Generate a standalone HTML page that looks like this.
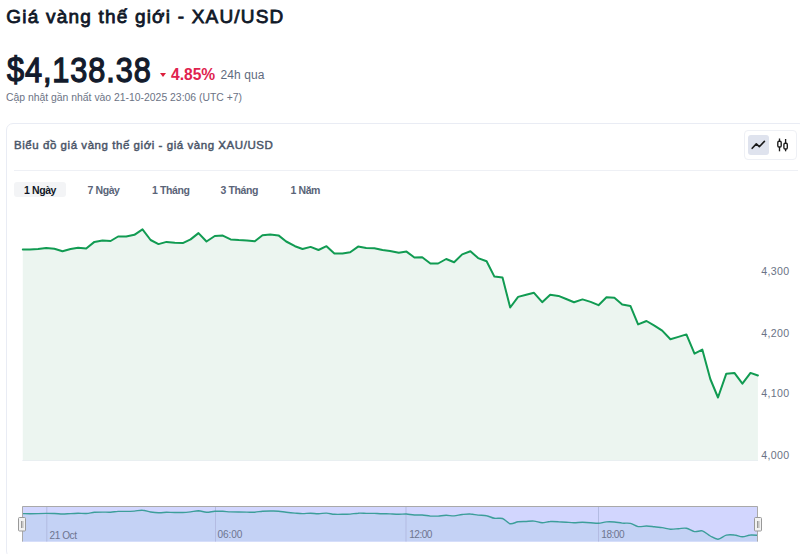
<!DOCTYPE html>
<html lang="vi">
<head>
<meta charset="utf-8">
<title>Giá vàng thế giới - XAU/USD</title>
<style>
*{margin:0;padding:0;box-sizing:border-box}
html,body{width:800px;height:554px;overflow:hidden;background:#fff}
body{font-family:"Liberation Sans",sans-serif;position:relative;color:#111827}
.abs{position:absolute;white-space:nowrap}
#title{left:6.3px;top:4.8px;font-size:19px;font-weight:normal;-webkit-text-stroke:0.8px #101828;color:#101828;line-height:24px;letter-spacing:1.2px}
#price{left:7.3px;top:48.6px;font-size:34.3px;font-weight:normal;-webkit-text-stroke:1.3px #131b2c;color:#131b2c;line-height:42px;letter-spacing:1px;transform:scaleX(0.895);transform-origin:0 0}
#tri{left:159.6px;top:73.4px;width:0;height:0;border-left:3.5px solid transparent;border-right:3.5px solid transparent;border-top:4.3px solid #dc1f3c}
#pct{left:171px;top:65.5px;font-size:15.6px;font-weight:bold;color:#e0234e;line-height:18px}
#ago{left:220.5px;top:68px;font-size:12px;letter-spacing:0.1px;color:#5f6b7e;line-height:14px}
#upd{left:6px;top:92px;font-size:10.4px;color:#6b7385;line-height:12px}
#card{left:6px;top:122.5px;width:800px;height:435px;border:1px solid #e9ecf4;border-radius:7px}
#ctitle{left:14px;top:137.5px;font-size:11.5px;font-weight:normal;-webkit-text-stroke:0.45px #4a5568;color:#4a5568;line-height:14px;letter-spacing:0.55px}
#tog{left:743.5px;top:130px;width:53px;height:29.5px;border:1px solid #eef0f5;border-radius:4px}
#tog .act{position:absolute;left:3.5px;top:3.5px;width:20.75px;height:20.5px;background:#dfe3ee;border-radius:3px}
#div1{left:14px;top:170px;width:783.5px;height:1px;background:#eef0f5}
#tab0{left:13.75px;top:181.75px;width:52px;height:15px;background:#f3f4f6;border-radius:3px}
.tab{top:184px;font-size:10.5px;font-weight:bold;color:#5a6478;line-height:12px;letter-spacing:-0.4px}
.tab.on{color:#111827}
svg{position:absolute;left:0;top:0}
</style>
</head>
<body>
<div class="abs" id="title">Giá vàng thế giới - XAU/USD</div>
<div class="abs" id="price">$4,138.38</div>
<div class="abs" id="tri"></div>
<div class="abs" id="pct">4.85%</div>
<div class="abs" id="ago">24h qua</div>
<div class="abs" id="upd">Cập nhật gần nhất vào 21-10-2025 23:06 (UTC +7)</div>
<div class="abs" id="card"></div>
<div class="abs" id="ctitle">Biểu đồ giá vàng thế giới - giá vàng XAU/USD</div>
<div class="abs" id="tog"><div class="act"></div></div>
<div class="abs" id="div1"></div>
<div class="abs" id="tab0"></div>
<div class="abs tab on" style="left:24px">1 Ngày</div>
<div class="abs tab" style="left:87.5px">7 Ngày</div>
<div class="abs tab" style="left:152px">1 Tháng</div>
<div class="abs tab" style="left:220.5px">3 Tháng</div>
<div class="abs tab" style="left:290.5px">1 Năm</div>
<svg width="800" height="554" viewBox="0 0 800 554">
 <!-- toggle icons -->
 <path d="M752.2 148.3 L756.3 143.9 L759.3 146.7 L764.4 141.4" fill="none" stroke="#1a1a1a" stroke-width="1.6" stroke-linecap="round" stroke-linejoin="round"/>
 <g fill="none" stroke="#1a1a1a" stroke-width="1.35">
  <line x1="779.5" y1="138.5" x2="779.5" y2="151.3"/>
  <rect x="777.8" y="141.2" width="3.4" height="5.8" rx="1.2" fill="#fff"/>
  <line x1="785.6" y1="139" x2="785.6" y2="151.3"/>
  <rect x="783.9" y="143.2" width="3.4" height="5.8" rx="1.2" fill="#fff"/>
 </g>
 <!-- main chart -->
 <line x1="22.5" y1="460.5" x2="758" y2="460.5" stroke="#e6e9f2" stroke-width="1"/>
 <path d="M22.8 249.4 L30 249.5 L38.1 249.1 L46.2 248 L54.4 248.8 L62.5 251.2 L70.6 249 L78.1 247.8 L86.2 248.5 L94.4 241.9 L102.5 240.6 L110.6 241 L118.1 236.5 L126.2 236.6 L134.4 234.8 L142.5 229.3 L150.6 240 L158.5 244.1 L166.5 241.9 L174.8 242.8 L182.8 243.1 L190.6 239.4 L198.5 233.1 L206.5 241.5 L214.8 236 L222.8 235.6 L230.6 239.4 L238.8 240 L246.9 240.4 L254.8 241.2 L262.5 235.2 L270.2 234.4 L278.5 235.4 L286.2 241.5 L295 246.2 L302.5 249 L310.6 246.9 L318.5 250 L326.5 246.2 L334.4 253.4 L342.5 253.4 L350.2 252.2 L358.1 246.6 L366.2 247.9 L374.4 248.2 L382.5 250 L390 250.9 L398.8 252.8 L406.5 251.6 L414.4 257.5 L422.2 257.2 L430.4 263.5 L438.1 263.5 L446.2 259 L454.1 262.2 L462.2 254.4 L470.4 251.2 L478.1 258.1 L486.6 261.2 L494.4 276.6 L502.5 277.5 L510.2 307.5 L518.1 296.9 L526.2 294.8 L534 292.8 L542.2 302.2 L550.2 294.8 L558.5 295.9 L566.2 299 L574 302.2 L582.5 299.4 L590.6 301.9 L598.5 305.2 L606.5 297.2 L614.4 297.8 L622.2 304.4 L630.4 305.9 L638.1 324.4 L646.5 321 L654.4 325.6 L662.2 330.6 L670.4 339.3 L678.4 336.9 L686.4 334.4 L694.5 353.6 L702.3 349.6 L710.3 379 L718 397.5 L726.3 373.7 L734.4 372.9 L742.4 383.7 L750.5 372.9 L757.9 375.5 L757.9 460.5 L22.8 460.5 Z" fill="#ecf5f0"/>
 <path d="M22.8 249.4 L30 249.5 L38.1 249.1 L46.2 248 L54.4 248.8 L62.5 251.2 L70.6 249 L78.1 247.8 L86.2 248.5 L94.4 241.9 L102.5 240.6 L110.6 241 L118.1 236.5 L126.2 236.6 L134.4 234.8 L142.5 229.3 L150.6 240 L158.5 244.1 L166.5 241.9 L174.8 242.8 L182.8 243.1 L190.6 239.4 L198.5 233.1 L206.5 241.5 L214.8 236 L222.8 235.6 L230.6 239.4 L238.8 240 L246.9 240.4 L254.8 241.2 L262.5 235.2 L270.2 234.4 L278.5 235.4 L286.2 241.5 L295 246.2 L302.5 249 L310.6 246.9 L318.5 250 L326.5 246.2 L334.4 253.4 L342.5 253.4 L350.2 252.2 L358.1 246.6 L366.2 247.9 L374.4 248.2 L382.5 250 L390 250.9 L398.8 252.8 L406.5 251.6 L414.4 257.5 L422.2 257.2 L430.4 263.5 L438.1 263.5 L446.2 259 L454.1 262.2 L462.2 254.4 L470.4 251.2 L478.1 258.1 L486.6 261.2 L494.4 276.6 L502.5 277.5 L510.2 307.5 L518.1 296.9 L526.2 294.8 L534 292.8 L542.2 302.2 L550.2 294.8 L558.5 295.9 L566.2 299 L574 302.2 L582.5 299.4 L590.6 301.9 L598.5 305.2 L606.5 297.2 L614.4 297.8 L622.2 304.4 L630.4 305.9 L638.1 324.4 L646.5 321 L654.4 325.6 L662.2 330.6 L670.4 339.3 L678.4 336.9 L686.4 334.4 L694.5 353.6 L702.3 349.6 L710.3 379 L718 397.5 L726.3 373.7 L734.4 372.9 L742.4 383.7 L750.5 372.9 L757.9 375.5" fill="none" stroke="#119b52" stroke-width="2" stroke-linejoin="round" stroke-linecap="round"/>
 <g font-family="Liberation Sans, sans-serif" font-size="10.6" fill="#6b7385" letter-spacing="0.35">
  <text x="789.6" y="275.3" text-anchor="end">4,300</text>
  <text x="789.6" y="337" text-anchor="end">4,200</text>
  <text x="789.6" y="397.4" text-anchor="end">4,100</text>
  <text x="789.6" y="458.8" text-anchor="end">4,000</text>
 </g>
 <!-- navigator -->
 <rect x="22" y="506.5" width="736" height="35" fill="#d2d6fe"/>
 <path d="M22 513.6 C23.3 513.6 27.3 513.7 30 513.7 C32.7 513.6 35.4 513.6 38.1 513.6 C40.8 513.5 43.5 513.4 46.2 513.4 C49 513.4 51.7 513.4 54.4 513.5 C57.1 513.6 59.8 513.9 62.5 514 C65.2 514 68 513.7 70.6 513.6 C73.2 513.5 75.5 513.4 78.1 513.3 C80.7 513.3 83.5 513.6 86.2 513.5 C89 513.3 91.7 512.6 94.4 512.3 C97.1 512.1 99.8 512.1 102.5 512.1 C105.2 512.1 108 512.3 110.6 512.2 C113.2 512.1 115.5 511.5 118.1 511.4 C120.7 511.3 123.5 511.5 126.2 511.4 C129 511.4 131.7 511.3 134.4 511.1 C137.1 510.9 139.8 510 142.5 510.2 C145.2 510.3 147.9 511.6 150.6 512 C153.3 512.4 155.8 512.7 158.5 512.7 C161.2 512.8 163.8 512.4 166.5 512.3 C169.2 512.3 172 512.5 174.8 512.5 C177.5 512.5 180.1 512.6 182.8 512.5 C185.4 512.5 188 512.2 190.6 511.9 C193.2 511.6 195.8 510.8 198.5 510.8 C201.2 510.9 203.8 512.2 206.5 512.3 C209.2 512.4 212 511.5 214.8 511.3 C217.5 511.2 220.1 511.2 222.8 511.3 C225.4 511.4 227.9 511.8 230.6 511.9 C233.3 512 236 512 238.8 512 C241.5 512 244.2 512 246.9 512.1 C249.6 512.1 252.2 512.4 254.8 512.2 C257.4 512.1 259.9 511.4 262.5 511.2 C265.1 511 267.6 511 270.2 511 C272.9 511.1 275.8 511 278.5 511.2 C281.2 511.4 283.5 512 286.2 512.3 C289 512.6 292.3 512.9 295 513.1 C297.7 513.3 299.9 513.5 302.5 513.6 C305.1 513.6 307.9 513.2 310.6 513.2 C313.3 513.2 315.9 513.8 318.5 513.7 C321.1 513.7 323.9 513 326.5 513.1 C329.1 513.2 331.7 514.1 334.4 514.3 C337.1 514.5 339.9 514.4 342.5 514.3 C345.1 514.3 347.6 514.3 350.2 514.1 C352.9 513.9 355.4 513.3 358.1 513.2 C360.8 513 363.5 513.3 366.2 513.4 C369 513.4 371.7 513.4 374.4 513.4 C377.1 513.5 379.9 513.7 382.5 513.7 C385.1 513.8 387.3 513.8 390 513.9 C392.7 514 396 514.2 398.8 514.2 C401.5 514.2 403.9 513.9 406.5 514 C409.1 514.2 411.8 514.9 414.4 515 C417 515.2 419.6 514.8 422.2 515 C424.9 515.2 427.8 515.9 430.4 516.1 C433 516.2 435.5 516.2 438.1 516.1 C440.7 515.9 443.6 515.3 446.2 515.3 C448.9 515.3 451.4 516 454.1 515.9 C456.8 515.7 459.5 514.8 462.2 514.5 C465 514.2 467.8 513.8 470.4 514 C473 514.1 475.4 514.8 478.1 515.1 C480.8 515.4 483.9 515.1 486.6 515.7 C489.3 516.2 491.8 517.9 494.4 518.3 C497 518.8 499.9 517.6 502.5 518.5 C505.1 519.4 507.6 523.1 510.2 523.7 C512.9 524.2 515.4 522.2 518.1 521.8 C520.8 521.5 523.6 521.6 526.2 521.5 C528.9 521.3 531.3 520.9 534 521.1 C536.7 521.3 539.5 522.7 542.2 522.8 C545 522.8 547.5 521.6 550.2 521.5 C553 521.3 555.8 521.5 558.5 521.7 C561.2 521.8 563.7 522 566.2 522.2 C568.8 522.4 571.3 522.7 574 522.8 C576.7 522.8 579.7 522.3 582.5 522.3 C585.3 522.3 587.9 522.5 590.6 522.7 C593.3 522.9 595.9 523.4 598.5 523.3 C601.1 523.1 603.9 522.1 606.5 521.9 C609.1 521.7 611.8 521.8 614.4 522 C617 522.2 619.6 522.9 622.2 523.1 C624.9 523.4 627.8 522.8 630.4 523.4 C633 524 635.4 526.1 638.1 526.6 C640.8 527 643.8 526 646.5 526 C649.2 526 651.8 526.5 654.4 526.8 C657 527.1 659.5 527.3 662.2 527.6 C664.9 528 667.7 529 670.4 529.2 C673.1 529.3 675.7 528.9 678.4 528.7 C681.1 528.6 683.7 527.8 686.4 528.3 C689.1 528.8 691.9 531.2 694.5 531.6 C697.1 532.1 699.7 530.2 702.3 530.9 C704.9 531.7 707.7 534.6 710.3 536 C712.9 537.4 715.3 539.3 718 539.2 C720.7 539 723.6 535.8 726.3 535.1 C729 534.4 731.7 534.7 734.4 535 C737.1 535.2 739.7 536.8 742.4 536.8 C745.1 536.8 747.9 535.2 750.5 535 C753.1 534.7 756.7 535.3 757.9 535.4 L757.9 541.5 L22 541.5 Z" fill="#c4d2f5"/>
 <g stroke="#b3bbe2" stroke-width="1">
  <line x1="46.8" y1="507" x2="46.8" y2="541.5"/>
  <line x1="215.5" y1="507" x2="215.5" y2="541.5"/>
  <line x1="406" y1="507" x2="406" y2="541.5"/>
  <line x1="598.5" y1="507" x2="598.5" y2="541.5"/>
 </g>
 <path d="M22 513.6 C23.3 513.6 27.3 513.7 30 513.7 C32.7 513.6 35.4 513.6 38.1 513.6 C40.8 513.5 43.5 513.4 46.2 513.4 C49 513.4 51.7 513.4 54.4 513.5 C57.1 513.6 59.8 513.9 62.5 514 C65.2 514 68 513.7 70.6 513.6 C73.2 513.5 75.5 513.4 78.1 513.3 C80.7 513.3 83.5 513.6 86.2 513.5 C89 513.3 91.7 512.6 94.4 512.3 C97.1 512.1 99.8 512.1 102.5 512.1 C105.2 512.1 108 512.3 110.6 512.2 C113.2 512.1 115.5 511.5 118.1 511.4 C120.7 511.3 123.5 511.5 126.2 511.4 C129 511.4 131.7 511.3 134.4 511.1 C137.1 510.9 139.8 510 142.5 510.2 C145.2 510.3 147.9 511.6 150.6 512 C153.3 512.4 155.8 512.7 158.5 512.7 C161.2 512.8 163.8 512.4 166.5 512.3 C169.2 512.3 172 512.5 174.8 512.5 C177.5 512.5 180.1 512.6 182.8 512.5 C185.4 512.5 188 512.2 190.6 511.9 C193.2 511.6 195.8 510.8 198.5 510.8 C201.2 510.9 203.8 512.2 206.5 512.3 C209.2 512.4 212 511.5 214.8 511.3 C217.5 511.2 220.1 511.2 222.8 511.3 C225.4 511.4 227.9 511.8 230.6 511.9 C233.3 512 236 512 238.8 512 C241.5 512 244.2 512 246.9 512.1 C249.6 512.1 252.2 512.4 254.8 512.2 C257.4 512.1 259.9 511.4 262.5 511.2 C265.1 511 267.6 511 270.2 511 C272.9 511.1 275.8 511 278.5 511.2 C281.2 511.4 283.5 512 286.2 512.3 C289 512.6 292.3 512.9 295 513.1 C297.7 513.3 299.9 513.5 302.5 513.6 C305.1 513.6 307.9 513.2 310.6 513.2 C313.3 513.2 315.9 513.8 318.5 513.7 C321.1 513.7 323.9 513 326.5 513.1 C329.1 513.2 331.7 514.1 334.4 514.3 C337.1 514.5 339.9 514.4 342.5 514.3 C345.1 514.3 347.6 514.3 350.2 514.1 C352.9 513.9 355.4 513.3 358.1 513.2 C360.8 513 363.5 513.3 366.2 513.4 C369 513.4 371.7 513.4 374.4 513.4 C377.1 513.5 379.9 513.7 382.5 513.7 C385.1 513.8 387.3 513.8 390 513.9 C392.7 514 396 514.2 398.8 514.2 C401.5 514.2 403.9 513.9 406.5 514 C409.1 514.2 411.8 514.9 414.4 515 C417 515.2 419.6 514.8 422.2 515 C424.9 515.2 427.8 515.9 430.4 516.1 C433 516.2 435.5 516.2 438.1 516.1 C440.7 515.9 443.6 515.3 446.2 515.3 C448.9 515.3 451.4 516 454.1 515.9 C456.8 515.7 459.5 514.8 462.2 514.5 C465 514.2 467.8 513.8 470.4 514 C473 514.1 475.4 514.8 478.1 515.1 C480.8 515.4 483.9 515.1 486.6 515.7 C489.3 516.2 491.8 517.9 494.4 518.3 C497 518.8 499.9 517.6 502.5 518.5 C505.1 519.4 507.6 523.1 510.2 523.7 C512.9 524.2 515.4 522.2 518.1 521.8 C520.8 521.5 523.6 521.6 526.2 521.5 C528.9 521.3 531.3 520.9 534 521.1 C536.7 521.3 539.5 522.7 542.2 522.8 C545 522.8 547.5 521.6 550.2 521.5 C553 521.3 555.8 521.5 558.5 521.7 C561.2 521.8 563.7 522 566.2 522.2 C568.8 522.4 571.3 522.7 574 522.8 C576.7 522.8 579.7 522.3 582.5 522.3 C585.3 522.3 587.9 522.5 590.6 522.7 C593.3 522.9 595.9 523.4 598.5 523.3 C601.1 523.1 603.9 522.1 606.5 521.9 C609.1 521.7 611.8 521.8 614.4 522 C617 522.2 619.6 522.9 622.2 523.1 C624.9 523.4 627.8 522.8 630.4 523.4 C633 524 635.4 526.1 638.1 526.6 C640.8 527 643.8 526 646.5 526 C649.2 526 651.8 526.5 654.4 526.8 C657 527.1 659.5 527.3 662.2 527.6 C664.9 528 667.7 529 670.4 529.2 C673.1 529.3 675.7 528.9 678.4 528.7 C681.1 528.6 683.7 527.8 686.4 528.3 C689.1 528.8 691.9 531.2 694.5 531.6 C697.1 532.1 699.7 530.2 702.3 530.9 C704.9 531.7 707.7 534.6 710.3 536 C712.9 537.4 715.3 539.3 718 539.2 C720.7 539 723.6 535.8 726.3 535.1 C729 534.4 731.7 534.7 734.4 535 C737.1 535.2 739.7 536.8 742.4 536.8 C745.1 536.8 747.9 535.2 750.5 535 C753.1 534.7 756.7 535.3 757.9 535.4" fill="none" stroke="#3c9e9a" stroke-width="1.4"/>
 <g font-family="Liberation Sans, sans-serif" font-size="10.1" fill="#6e7590">
  <text x="49.5" y="538.5" letter-spacing="-0.45">21 Oct</text>
  <text x="217.5" y="538.2" letter-spacing="-0.1">06:00</text>
  <text x="409.3" y="538.2" letter-spacing="-0.55">12:00</text>
  <text x="601.3" y="538.2" letter-spacing="-0.5">18:00</text>
 </g>
 <path d="M22.5 541.5 L22.5 506.5 L757.5 506.5 L757.5 541.5" fill="none" stroke="#a9a9a9" stroke-width="1"/>
 <g>
  <rect x="18.5" y="517.5" width="7" height="13.5" rx="1" fill="#f2f2f2" stroke="#999"/>
  <line x1="21.5" y1="521" x2="21.5" y2="528" stroke="#999"/>
  <line x1="22.9" y1="521" x2="22.9" y2="528" stroke="#aaa"/>
  <rect x="754.5" y="517.5" width="7" height="13.5" rx="1" fill="#f2f2f2" stroke="#999"/>
  <line x1="757.5" y1="521" x2="757.5" y2="528" stroke="#999"/>
  <line x1="758.9" y1="521" x2="758.9" y2="528" stroke="#aaa"/>
 </g>
</svg>
</body>
</html>
